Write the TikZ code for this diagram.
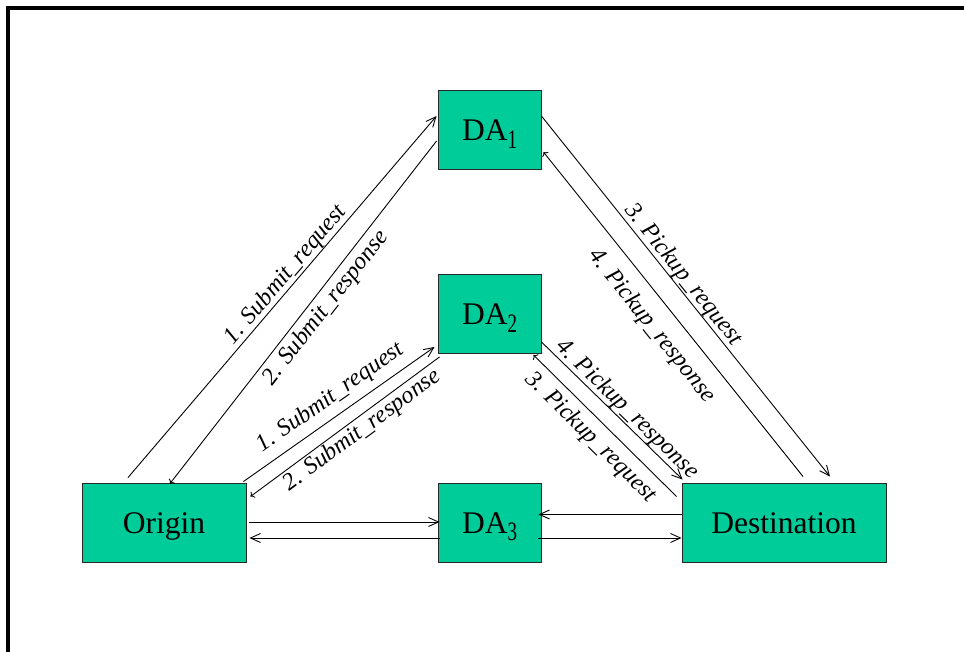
\documentclass[tikz,border=0pt]{standalone}
\usepackage{fontspec}
\usepackage{graphicx}
\setmainfont{Liberation Serif}
\usetikzlibrary{calc,arrows.meta}

\definecolor{boxgreen}{RGB}{0,204,153}
\definecolor{boxedge}{RGB}{40,40,40}

\tikzset{
  agentbox/.style={draw=boxedge, line width=0.9pt, fill=boxgreen, inner sep=0pt,
    minimum height=79pt, text height=27pt, text depth=5pt,
    font=\fontsize{31.5}{36}\selectfont},
  msg/.style={line width=0.9pt, -{Straight Barb[length=10pt,width=9pt,line width=0.9pt]}},
  lbl/.style={sloped, inner sep=0pt, font=\itshape\fontsize{24}{28}\selectfont}
}
\newcommand{\agentsub}[1]{\raisebox{-7.5pt}{\scalebox{1}[1.4]{\fontsize{19}{22}\selectfont #1}}}

\begin{document}
\begin{tikzpicture}[x=1pt,y=1pt]
  \useasboundingbox (0,0) rectangle (964,652);

  % outer frame, top and left edges
  \draw[line width=4pt, line join=miter] (8,-10) -- (8,644) -- (980,644);

  % agents
  \node[agentbox, minimum width=103pt] (DA1) at (489.5,522) {DA\agentsub{1}};
  \node[agentbox, minimum width=103pt] (DA2) at (489.5,338) {DA\agentsub{2}};
  \node[agentbox, minimum width=103pt] (DA3) at (489.5,129.5) {DA\agentsub{3}};
  \node[agentbox, minimum width=164pt] (Origin) at (164,129.5) {Origin};
  \node[agentbox, minimum width=204pt] (Destination) at (784,129.5) {Destination};

  % Origin <-> DA1
  \draw[msg] ($(Origin.north)+(-36,5)$) -- ($(DA1.west)+(-1,14)$)
    node[lbl, pos=0.54, above=0pt] {1. Submit\_request};
  \draw[msg, <-] ($(Origin.north)+(6,-1)$) -- ($(DA1.west)+(-1,-11)$)
    node[lbl, pos=0.54, below=4pt] {2. Submit\_response};

  % Origin <-> DA2
  \draw[msg] ($(Origin.north east)+(-3,1)$) -- ($(DA2.south west)+(-3,7)$)
    node[lbl, pos=0.51, above=7pt] {1. Submit\_request};
  \draw[msg, <-] ($(Origin.north east)+(4,-14)$) -- ($(DA2.south west)+(2,-3)$)
    node[lbl, pos=0.55, below=2pt] {2. Submit\_response};

  % DA1 <-> Destination
  \draw[msg] ($(DA1.east)+(0,14)$) -- ($(Destination.north)+(46,6)$)
    node[lbl, pos=0.46, above=0pt] {3. Pickup\_request};
  \draw[msg, <-] ($(DA1.east)+(2,-22)$) -- ($(Destination.north)+(19,6)$)
    node[lbl, pos=0.49, below=13pt] {4. Pickup\_response};

  % DA2 <-> Destination
  \draw[msg] ($(DA2.south east)+(0,12)$) -- ($(Destination.north west)+(1,3)$)
    node[lbl, pos=0.55, above=0pt] {4. Pickup\_response};
  \draw[msg, <-] ($(DA2.south east)+(-8,-1)$) -- ($(Destination.north west)+(-5,-14)$)
    node[lbl, pos=0.49, below=7pt] {3. Pickup\_request};

  % DA3 links
  \draw[msg] ($(Origin.east)+(3,0.5)$) -- ($(DA3.west)+(2,0.5)$);
  \draw[msg] ($(DA3.west)+(2,-15.5)$) -- ($(Origin.east)+(3,-15.5)$);
  \draw[msg] ($(Destination.west)+(0,8)$) -- ($(DA3.east)+(-3,8)$);
  \draw[msg] ($(DA3.east)+(-3,-15.5)$) -- ($(Destination.west)+(0,-15.5)$);
\end{tikzpicture}
\end{document}
